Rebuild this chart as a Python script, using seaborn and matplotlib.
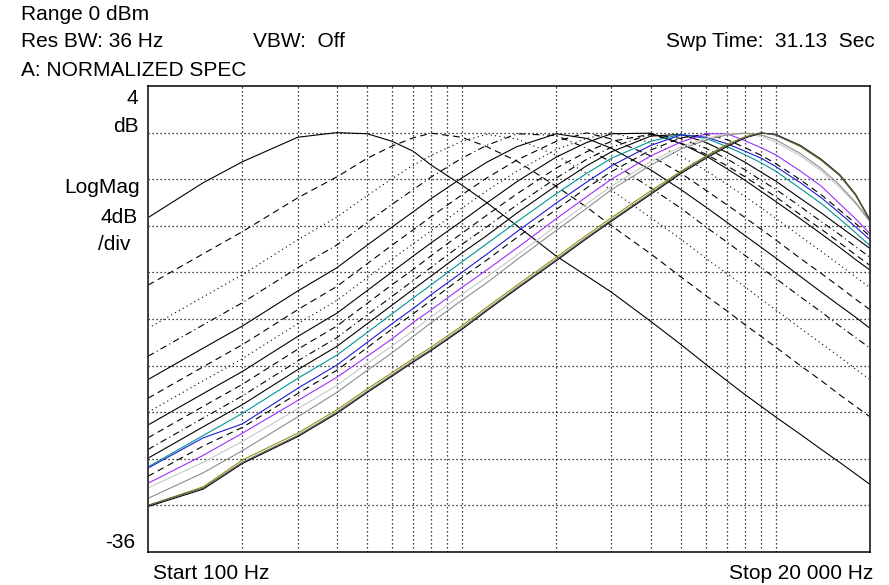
import matplotlib
matplotlib.use("Agg")
import matplotlib.pyplot as plt
from matplotlib.ticker import NullLocator
import seaborn as sns

# Sweep frequencies (Hz) at which every trace is sampled
FREQ_HZ = [100, 150, 200, 300, 400, 500, 600, 700, 800, 1000, 1200, 1500,
           2000, 2500, 3000, 4000, 5000, 6000, 7000, 8000, 9000, 10000,
           12000, 14000, 16000, 18000, 20000]

# Normalized magnitude of each trace (dB), one list per trace
TRACE_01 = [-7.3, -4.3, -2.5, -0.4, 0.0, -0.1, -0.75, -1.6, -2.8, -4.5, -6.0, -8.0,
            -10.6, -12.3, -13.7, -16.2, -18.2, -19.9, -21.3, -22.5, -23.5, -24.4,
            -25.9, -27.2, -28.3, -29.3, -30.2]
TRACE_02 = [-13.1, -10.4, -8.5, -5.6, -3.8, -2.2, -1.15, -0.45, -0.05, -0.4, -1.2, -2.45,
            -4.6, -6.4, -8.0, -10.4, -12.4, -14.0, -15.3, -16.5, -17.5, -18.4,
            -20.0, -21.3, -22.5, -23.5, -24.4]
TRACE_03 = [-16.8, -14.1, -12.2, -9.2, -7.25, -5.4, -3.95, -2.8, -1.95, -0.75, -0.15, -0.55,
            -1.95, -3.5, -4.95, -7.3, -9.15, -10.8, -12.1, -13.25, -14.3, -15.2,
            -16.8, -18.1, -19.25, -20.3, -21.2]
TRACE_04 = [-19.2, -16.5, -14.6, -11.6, -9.65, -7.7, -6.15, -4.9, -3.8, -2.2, -1.1, -0.1,
            -0.25, -1.35, -2.55, -4.75, -6.5, -8.1, -9.4, -10.55, -11.6, -12.5,
            -14.1, -15.4, -16.6, -17.6, -18.5]
TRACE_05 = [-21.2, -18.5, -16.6, -13.6, -11.6, -9.65, -8.1, -6.8, -5.65, -3.9, -2.55, -1.2,
            -0.1, -0.5, -1.35, -3.2, -4.9, -6.4, -7.7, -8.85, -9.85, -10.75,
            -12.35, -13.7, -14.85, -15.85, -16.8]
TRACE_06 = [-22.8, -20.1, -18.2, -15.2, -13.2, -11.25, -9.65, -8.35, -7.2, -5.35, -3.9, -2.35,
            -0.75, -0.02, -0.55, -2.0, -3.5, -4.95, -6.2, -7.3, -8.3, -9.2,
            -10.8, -12.1, -13.25, -14.3, -15.2]
TRACE_07 = [-24.0, -21.3, -19.4, -16.4, -14.4, -12.45, -10.85, -9.55, -8.4, -6.5, -5.0, -3.3,
            -1.45, -0.5, 0.0, -0.85, -2.05, -3.25, -4.45, -5.5, -6.45, -7.35,
            -8.9, -10.2, -11.35, -12.4, -13.3]
TRACE_08 = [-25.1, -22.4, -20.5, -17.5, -15.5, -13.55, -11.95, -10.6, -9.45, -7.6, -6.05, -4.2,
            -2.1, -0.85, -0.1, -0.05, -0.95, -2.0, -3.1, -4.1, -5.05, -5.9,
            -7.4, -8.7, -9.85, -10.9, -11.8]
TRACE_09 = [-26.2, -23.5, -21.6, -18.6, -16.6, -14.65, -13.05, -11.75, -10.55, -8.65, -7.1, -5.25,
            -3.05, -1.65, -0.75, -0.15, -0.9, -1.85, -2.85, -3.8, -4.7, -5.5,
            -7.05, -8.3, -9.45, -10.5, -11.4]
TRACE_10 = [-27.2, -24.5, -22.6, -19.6, -17.6, -15.65, -14.05, -12.7, -11.55, -9.6, -8.1, -6.2,
            -3.9, -2.3, -1.25, -0.15, -0.5, -1.35, -2.25, -3.2, -4.1, -4.85,
            -6.35, -7.65, -8.75, -9.8, -10.7]
TRACE_11 = [-27.95, -25.25, -23.35, -20.35, -18.35, -16.4, -14.8, -13.45, -12.3, -10.35, -8.85, -6.9,
            -4.55, -2.85, -1.65, -0.3, -0.15, -0.85, -1.7, -2.55, -3.4, -4.15,
            -5.65, -6.9, -8.05, -9.05, -9.95]
TRACE_12 = [-28.7, -26.0, -24.1, -21.1, -19.1, -17.15, -15.55, -14.2, -13.05, -11.1, -9.55, -7.65,
            -5.25, -3.5, -2.2, -0.75, -0.15, -0.5, -1.2, -1.9, -2.6, -3.3,
            -4.8, -6.1, -7.4, -8.6, -9.7]
TRACE_13 = [-28.8, -26.2, -25.0, -21.95, -19.95, -18.0, -16.4, -15.1, -13.9, -12.0, -10.45, -8.5,
            -6.05, -4.25, -2.85, -1.1, -0.2, -0.4, -0.95, -1.6, -2.2, -2.9,
            -4.3, -5.6, -6.9, -8.1, -9.2]
TRACE_14 = [-29.5, -26.9, -25.3, -22.4, -20.4, -18.45, -16.85, -15.55, -14.4, -12.45, -10.95, -9.0,
            -6.6, -4.75, -3.35, -1.5, -0.45, -0.15, -0.6, -1.3, -1.95, -2.65,
            -4.05, -5.35, -6.65, -7.8, -8.9]
TRACE_15 = [-30.1, -27.7, -25.8, -23.0, -21.0, -19.2, -17.7, -16.3, -15.2, -13.3, -11.8, -9.9,
            -7.4, -5.5, -4.0, -2.0, -0.8, -0.1, -0.1, -0.7, -1.3, -1.9,
            -3.3, -4.6, -6.1, -7.4, -8.7]
TRACE_16 = [-30.5, -28.3, -26.5, -23.7, -21.7, -19.8, -18.3, -17.0, -15.8, -13.9, -12.4, -10.5,
            -8.0, -6.1, -4.6, -2.5, -1.2, -0.5, -0.1, -0.05, -0.35, -0.8,
            -2.0, -3.3, -4.7, -6.1, -7.7]
TRACE_17 = [-31.4, -29.2, -27.3, -24.4, -22.3, -20.4, -18.9, -17.5, -16.3, -14.4, -12.9, -10.9,
            -8.4, -6.5, -4.9, -2.8, -1.4, -0.65, -0.2, -0.05, -0.2, -0.6,
            -1.8, -3.1, -4.5, -6.0, -7.6]
TRACE_18 = [-32.0, -30.4, -28.1, -25.8, -23.8, -22.0, -20.6, -19.4, -18.4, -16.6, -15.0, -13.1,
            -10.7, -8.8, -7.3, -5.0, -3.3, -2.0, -1.0, -0.35, 0.0, -0.2,
            -1.2, -2.4, -3.7, -5.4, -7.6]
TRACE_19 = [-32.1, -30.6, -28.4, -26.1, -24.1, -22.3, -20.9, -19.7, -18.7, -16.9, -15.3, -13.4,
            -11.0, -9.1, -7.6, -5.3, -3.5, -2.2, -1.2, -0.45, -0.05, -0.15,
            -1.1, -2.3, -3.6, -5.3, -7.5]
TRACE_20 = [-32.0, -30.5, -28.3, -26.0, -24.0, -22.2, -20.8, -19.6, -18.6, -16.8, -15.2, -13.3,
            -10.9, -9.0, -7.5, -5.2, -3.4, -2.1, -1.1, -0.4, -0.02, -0.2,
            -1.15, -2.35, -3.65, -5.35, -7.5]

SOLID = "-"
DASHED = (0, (6, 4))
DOTTED = (0, (1, 3))
DASHDOT = (0, (6, 3, 1, 3))

# (values, colour, line style) for each trace
TRACES = [
    (TRACE_01, "black", SOLID),
    (TRACE_02, "black", DASHED),
    (TRACE_03, "black", DOTTED),
    (TRACE_04, "black", DASHDOT),
    (TRACE_05, "black", SOLID),
    (TRACE_06, "black", DASHED),
    (TRACE_07, "black", DOTTED),
    (TRACE_08, "black", SOLID),
    (TRACE_09, "black", DASHED),
    (TRACE_10, "black", DASHDOT),
    (TRACE_11, "black", SOLID),
    (TRACE_12, "#009494", SOLID),
    (TRACE_13, "#1c1cd4", SOLID),
    (TRACE_14, "black", DASHED),
    (TRACE_15, "#9b30ff", SOLID),
    (TRACE_16, "#c8c8c8", SOLID),
    (TRACE_17, "#8c8c8c", SOLID),
    (TRACE_18, "#94940c", SOLID),
    (TRACE_19, "black", SOLID),
    (TRACE_20, "#5a5a5a", SOLID),
]

GRID_FREQ = [200, 300, 400, 500, 600, 700, 800, 900, 1000,
             2000, 3000, 4000, 5000, 6000, 7000, 8000, 9000, 10000]
GRID_DB = [-32, -28, -24, -20, -16, -12, -8, -4, 0]

sns.set_theme(style="white")
plt.rcParams["font.family"] = ["Liberation Sans", "DejaVu Sans"]

W, H = 889, 585
fig = plt.figure(figsize=(W / 100, H / 100), dpi=100)
fig.patch.set_facecolor("white")
ax = fig.add_axes([148 / W, 1 - 552 / H, (870 - 148) / W, (552 - 86) / H])
ax.set_facecolor("white")
ax.set_xscale("log")

for vals, color, ls in TRACES:
    sns.lineplot(x=FREQ_HZ, y=vals, ax=ax, color=color, linestyle=ls,
                 linewidth=0.8, sort=False, legend=False)

ax.set_xlim(100, 20000)
ax.set_ylim(-36, 4)
ax.set_xticks(GRID_FREQ)
ax.xaxis.set_minor_locator(NullLocator())
ax.set_yticks(GRID_DB)
ax.grid(True, color="black", linestyle=(0, (1, 2.2)), linewidth=0.9)
ax.set_axisbelow(True)
ax.tick_params(length=0, labelbottom=False, labelleft=False)
for name, s in ax.spines.items():
    s.set_visible(True)
    s.set_color("#3a3a3a" if name in ("left", "right") else "black")
    s.set_linewidth(1.4 if name in ("left", "right") else 1.1)

FS = 15


def px_text(x, y, s, ha="left"):
    fig.text(x / W, 1 - y / H, s, ha=ha, va="baseline", fontsize=FS, color="black")


px_text(21, 19.5, "Range 0 dBm")
px_text(21, 47, "Res BW: 36 Hz")
px_text(253, 47, "VBW:  Off")
px_text(875, 47, "Swp Time:  31.13  Sec", ha="right")
px_text(21, 76, "A: NORMALIZED SPEC")

px_text(138, 104.5, "4", ha="right")
px_text(139, 131.5, "dB", ha="right")
px_text(140, 193, "LogMag", ha="right")
px_text(138, 223, "4dB", ha="right")
px_text(131, 250, "/div", ha="right")
px_text(135, 548, "-36", ha="right")

px_text(153, 579, "Start 100 Hz")
px_text(873, 579, "Stop 20 000 Hz", ha="right")

fig.savefig("out.png", dpi=100, facecolor="white")
